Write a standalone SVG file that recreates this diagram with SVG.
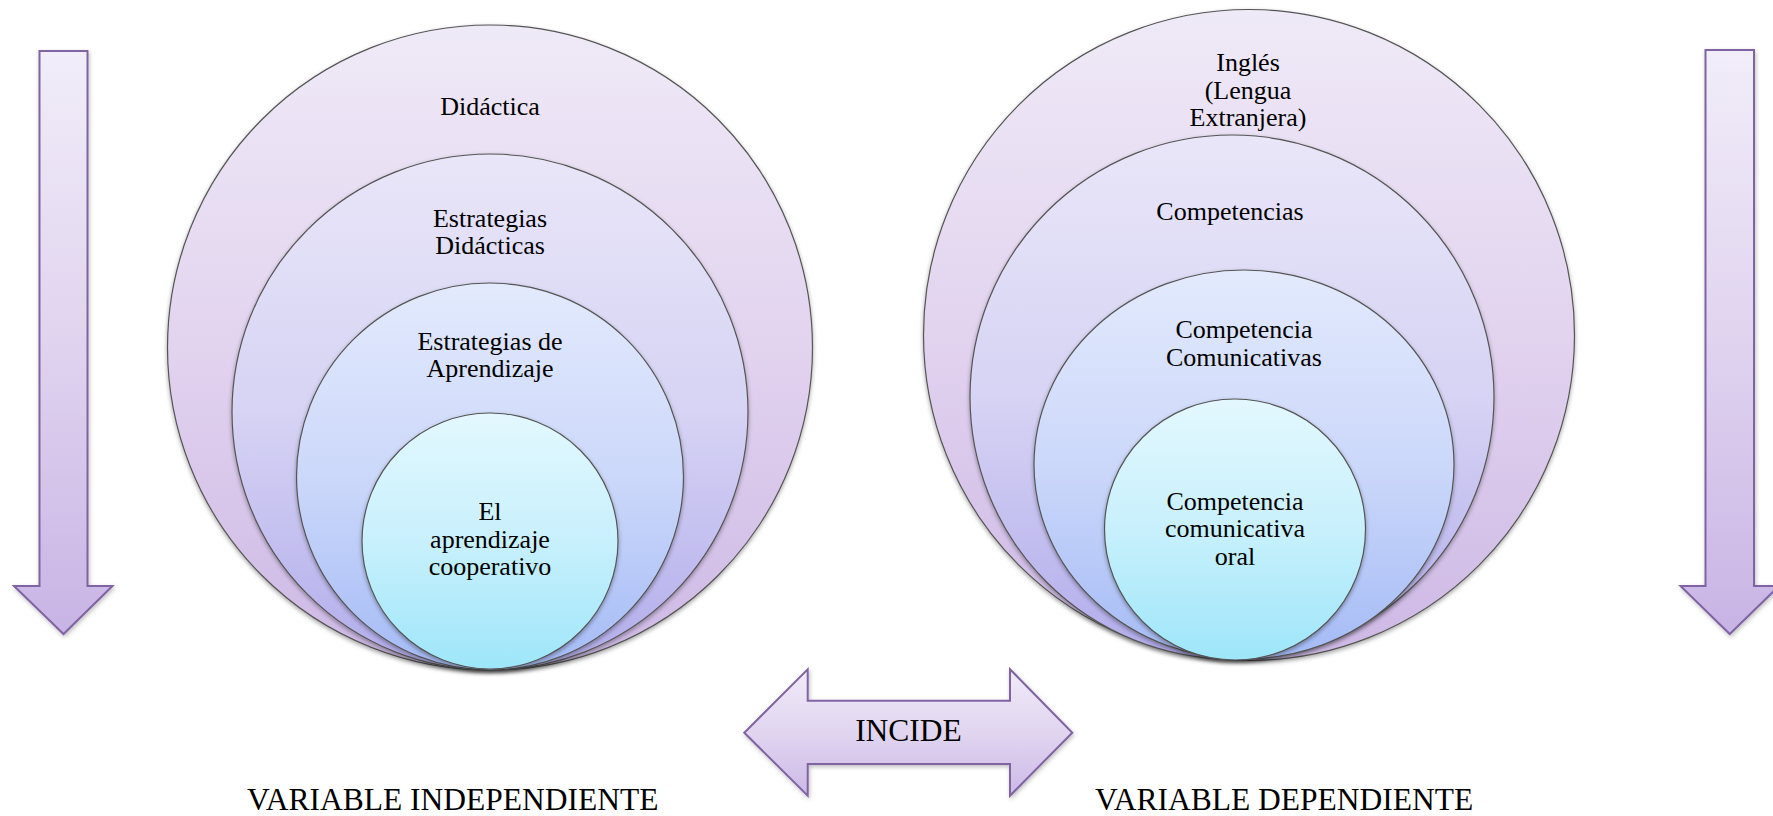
<svg xmlns="http://www.w3.org/2000/svg" width="1773" height="816" viewBox="0 0 1773 816">
<defs>
<linearGradient id="gOuter" x1="0" y1="0" x2="0" y2="1">
<stop offset="0" stop-color="#EFEAF7"/><stop offset="0.5" stop-color="#E2D3EF"/><stop offset="1" stop-color="#CDB8E5"/>
</linearGradient>
<linearGradient id="gMid" x1="0" y1="0" x2="0" y2="1">
<stop offset="0" stop-color="#E9E6F9"/><stop offset="0.5" stop-color="#D6D3F4"/><stop offset="1" stop-color="#B2ACEB"/>
</linearGradient>
<linearGradient id="gInner3" x1="0" y1="0" x2="0" y2="1">
<stop offset="0" stop-color="#E3EAFD"/><stop offset="0.5" stop-color="#CCD8FA"/><stop offset="1" stop-color="#A5BBF6"/>
</linearGradient>
<linearGradient id="gCore" x1="0" y1="0" x2="0" y2="1">
<stop offset="0" stop-color="#E3F8FE"/><stop offset="0.5" stop-color="#C8F0FC"/><stop offset="1" stop-color="#9EE6FA"/>
</linearGradient>
<linearGradient id="gArrowV" x1="0" y1="0" x2="0" y2="1">
<stop offset="0" stop-color="#F1EDF9"/><stop offset="0.5" stop-color="#E0D3EF"/><stop offset="1" stop-color="#C8B4E5"/>
</linearGradient>
<linearGradient id="gArrowH" x1="0" y1="0" x2="0" y2="1">
<stop offset="0" stop-color="#F0EBF8"/><stop offset="0.5" stop-color="#E1D5F0"/><stop offset="1" stop-color="#CDB9E7"/>
</linearGradient>
<filter id="shadow" x="-10%" y="-10%" width="120%" height="125%">
<feDropShadow dx="0" dy="2" stdDeviation="2" flood-color="#000" flood-opacity="0.35"/>
</filter>
<filter id="ashadow" x="-20%" y="-10%" width="140%" height="125%">
<feDropShadow dx="1" dy="2" stdDeviation="2" flood-color="#000" flood-opacity="0.25"/>
</filter>
</defs>
<style>
.ring{stroke:#555555;stroke-width:1.2;filter:url(#shadow)}
.arrow{stroke:#8064A2;stroke-width:2;stroke-linejoin:miter;filter:url(#ashadow)}
.t{font-family:"Liberation Serif","Times New Roman",serif;font-size:26px;fill:#000;text-anchor:middle}
.big{font-family:"Liberation Serif","Times New Roman",serif;font-size:31.5px;fill:#000}
</style>
<rect width="1773" height="816" fill="#FFFFFF"/>

<g id="left-outer">
<circle class="ring" cx="490" cy="347.5" r="322.5" fill="url(#gOuter)"/>
<text class="t" x="490" y="115">Didáctica</text>
</g>
<g id="left-mid">
<circle class="ring" cx="490" cy="412" r="258" fill="url(#gMid)"/>
<text class="t" x="490" y="227">Estrategias</text>
<text class="t" x="490" y="254">Didácticas</text>
</g>
<g id="left-inner">
<circle class="ring" cx="490" cy="476.5" r="193.5" fill="url(#gInner3)"/>
<text class="t" x="490" y="350">Estrategias de</text>
<text class="t" x="490" y="377">Aprendizaje</text>
</g>
<g id="left-core">
<circle class="ring" cx="490" cy="541" r="128" fill="url(#gCore)"/>
<text class="t" x="490" y="520">El</text>
<text class="t" x="490" y="548">aprendizaje</text>
<text class="t" x="490" y="575">cooperativo</text>
</g>

<g id="right-outer">
<circle class="ring" cx="1249" cy="335" r="325.5" fill="url(#gOuter)"/>
<text class="t" x="1248" y="71">Inglés</text>
<text class="t" x="1248" y="98.5">(Lengua</text>
<text class="t" x="1248" y="126">Extranjera)</text>
</g>
<g id="right-mid">
<circle class="ring" cx="1232" cy="397" r="262" fill="url(#gMid)"/>
<text class="t" x="1230" y="220">Competencias</text>
</g>
<g id="right-inner">
<ellipse class="ring" cx="1244" cy="464.5" rx="210" ry="194.5" fill="url(#gInner3)"/>
<text class="t" x="1244" y="338">Competencia</text>
<text class="t" x="1244" y="365.5">Comunicativas</text>
</g>
<g id="right-core">
<circle class="ring" cx="1235" cy="529.5" r="130.5" fill="url(#gCore)"/>
<text class="t" x="1235" y="510">Competencia</text>
<text class="t" x="1235" y="537">comunicativa</text>
<text class="t" x="1235" y="565">oral</text>
</g>

<g id="connectors">
<g id="arrow-left">
<polygon class="arrow" fill="url(#gArrowV)" points="39.5,51 87.5,51 87.5,586 112.5,586 63.5,634 14,586 39.5,586"/>
</g>
<g id="arrow-right">
<polygon class="arrow" fill="url(#gArrowV)" points="1705.5,50 1754,50 1754,586 1779,586 1729.75,634 1680.5,586 1705.5,586"/>
</g>
<g id="arrow-incide">
<polygon class="arrow" fill="url(#gArrowH)" points="744.3,732.7 807.7,669.3 807.7,700.7 1010,700.7 1010,669.3 1072.3,732.7 1010,795.7 1010,764 807.7,764 807.7,795.7"/>
<text class="big" x="908.5" y="741" text-anchor="middle">INCIDE</text>
</g>
</g>

<g id="label-independiente">
<text class="big" x="247" y="809.5">VARIABLE INDEPENDIENTE</text>
</g>
<g id="label-dependiente">
<text class="big" x="1095" y="809.5">VARIABLE DEPENDIENTE</text>
</g>
</svg>
